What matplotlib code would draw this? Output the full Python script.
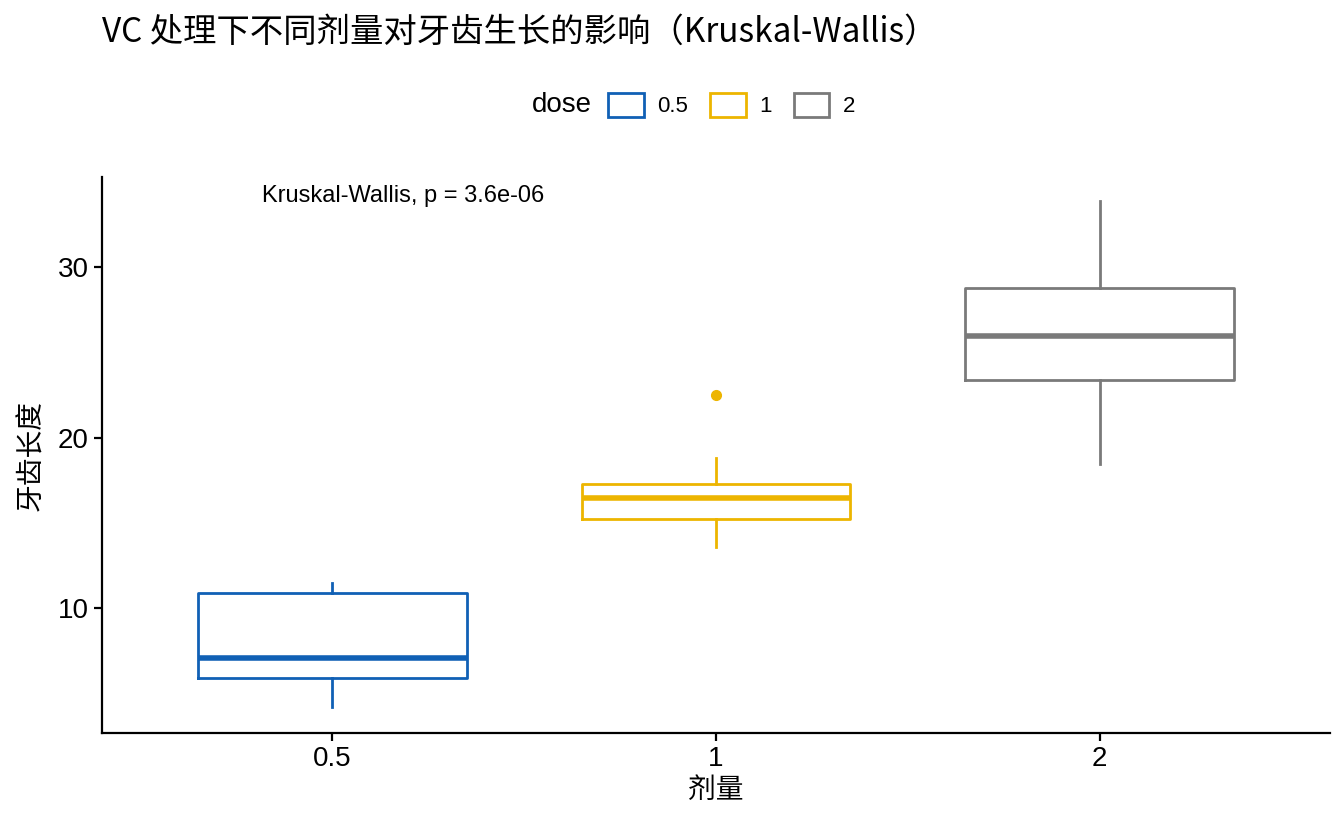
import matplotlib
matplotlib.use("Agg")
import matplotlib.pyplot as plt
from matplotlib.patches import Patch

plt.rcParams['font.family'] = ['Liberation Sans', 'Noto Sans CJK SC', 'DejaVu Sans']

doses = ['0.5', '1', '2']
colors = ['#1060B5', '#EDB500', '#7A7A7A']
whislo = [4.2, 13.6, 18.5]
q1 = [5.9, 15.25, 23.4]
med = [7.1, 16.5, 26.0]
q3 = [10.9, 17.3, 28.8]
whishi = [11.5, 18.8, 33.9]
fliers = [[], [22.5], []]

fig = plt.figure(figsize=(13.44, 8.3), dpi=100)
ax = fig.add_axes([102/1344, 97/830, 1228/1344, 556/830])

for i, d in enumerate(doses):
    st = dict(whislo=whislo[i], q1=q1[i], med=med[i], q3=q3[i], whishi=whishi[i], fliers=fliers[i], label=d)
    c = colors[i]
    ax.bxp([st], positions=[i + 1], widths=0.7, showcaps=False,
           boxprops=dict(color=c, linewidth=2),
           whiskerprops=dict(color=c, linewidth=2),
           medianprops=dict(color=c, linewidth=4),
           flierprops=dict(marker='o', markerfacecolor=c, markeredgecolor=c, markersize=7))

ax.set_xlim(0.4, 3.6)
ax.set_ylim(2.7, 35.3)
ax.set_yticks([10, 20, 30])
ax.set_xticks([1, 2, 3])
ax.set_xticklabels(doses)
for s in ['top', 'right']:
    ax.spines[s].set_visible(False)
for s in ['left', 'bottom']:
    ax.spines[s].set_linewidth(1.6)
ax.tick_params(labelsize=20, width=1.6, length=6, colors='black')
ax.set_xlabel('剂量', fontsize=20, family='Noto Sans CJK SC', labelpad=2)
ax.set_ylabel('牙齿长度', fontsize=20, family='Noto Sans CJK SC', labelpad=8)

ax.text(0.818, 34.2, 'Kruskal-Wallis, p = 3.6e-06', fontsize=17, va='center', ha='left')

fig.text(102/1344, 1 - 32/830, 'VC 处理下不同剂量对牙齿生长的影响（Kruskal-Wallis）',
         fontsize=24, family=['Noto Sans CJK SC', 'DejaVu Sans'], va='center')

fig.text(532/1344, 1 - 105/830, 'dose', fontsize=20, va='center', ha='left')
handles = [Patch(facecolor='white', edgecolor=c, linewidth=2) for c in colors]
fig.legend(handles, doses, loc='center left', bbox_to_anchor=(608/1344, 1 - 105/830),
           ncol=3, frameon=False, fontsize=16, borderaxespad=0, borderpad=0,
           handlelength=1.6, handleheight=1.3, columnspacing=1.0, handletextpad=0.6)

fig.savefig('out.png', dpi=100)
